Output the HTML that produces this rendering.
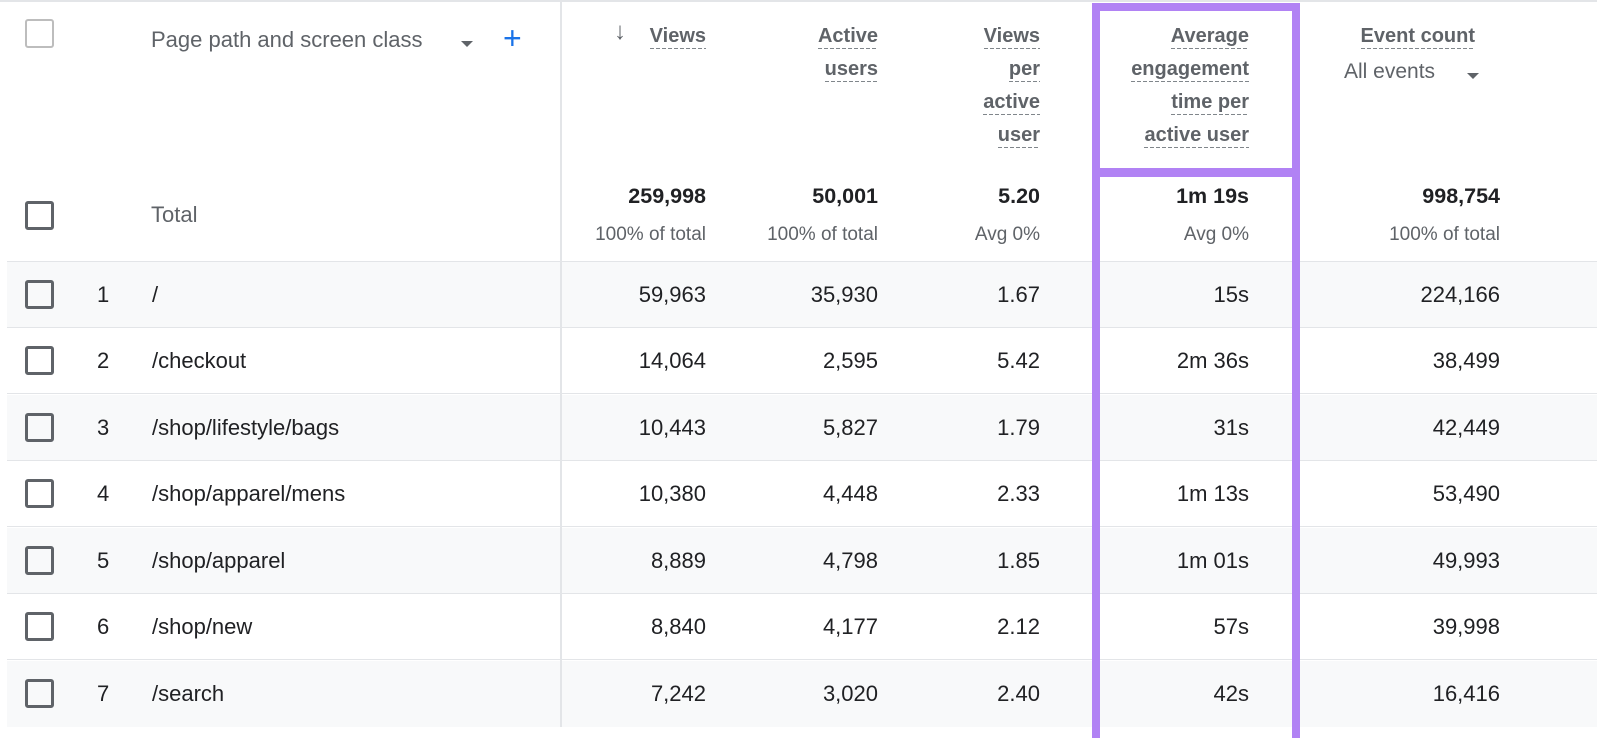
<!DOCTYPE html>
<html><head><meta charset="utf-8"><style>
*{margin:0;padding:0;box-sizing:border-box}
body{width:1600px;height:727px;background:#fff;position:relative;overflow:hidden;font-family:"Liberation Sans",Arial,sans-serif;color:#202124}
.a{position:absolute;white-space:nowrap}
.h{position:absolute;font-size:20px;font-weight:bold;color:#5f6368;text-align:right;line-height:33px}
.h span{display:inline-block;line-height:24px;padding-bottom:1px;background:repeating-linear-gradient(90deg,#80868b 0 4px,transparent 4px 6px) left bottom/100% 1.5px no-repeat}
.cb{position:absolute;left:25px;width:29px;height:29px;border:3px solid #5f6368;border-radius:3px}
.row{position:absolute;left:7px;width:1590px;height:66px;border-bottom:1.5px solid #e3e5e8}
.cell{position:absolute;font-size:22px;line-height:66px;top:0}
.t{position:absolute;font-size:21.5px;font-weight:bold;text-align:right;top:184px}
.s{position:absolute;font-size:19px;color:#5f6368;text-align:right;top:224px}
</style></head><body>
<div class="a" style="left:0;top:0;width:1600px;height:1.5px;background:#e3e5e8"></div>
<div class="cb" style="top:19px;border-color:#bdbdbd;border-width:2.5px"></div>
<div class="a" style="left:151px;top:27px;font-size:22px;color:#5f6368">Page path and screen class</div>
<div class="a" style="left:461px;top:41px;width:0;height:0;border-left:6px solid transparent;border-right:6px solid transparent;border-top:6px solid #5f6368"></div>
<div class="a" style="left:503px;top:20px;font-size:32px;color:#1a73e8">+</div>

<div class="h" style="left:560px;width:146px;top:20px">
<span style="position:absolute;right:80px;background:none;font-size:24px">↓</span><span>Views</span></div>
<div class="h" style="left:720px;width:158px;top:20px"><span>Active</span><br><span>users</span></div>
<div class="h" style="left:900px;width:140px;top:20px"><span>Views</span><br><span>per</span><br><span>active</span><br><span>user</span></div>
<div class="h" style="left:1100px;width:149px;top:20px"><span>Average</span><br><span>engagement</span><br><span>time per</span><br><span>active user</span></div>
<div class="h" style="left:1300px;width:175px;top:20px"><span>Event count</span></div>
<div class="a" style="left:1344px;top:60px;font-size:21px;color:#5f6368">All events</div>
<div class="a" style="left:1467px;top:73px;width:0;height:0;border-left:6px solid transparent;border-right:6px solid transparent;border-top:6px solid #5f6368"></div>

<div class="cb" style="top:201px"></div>
<div class="a" style="left:151px;top:202px;font-size:22px;color:#5f6368">Total</div>
<div class="t" style="left:540px;width:166px">259,998</div>
<div class="t" style="left:720px;width:158px">50,001</div>
<div class="t" style="left:900px;width:140px">5.20</div>
<div class="t" style="left:1100px;width:149px">1m 19s</div>
<div class="t" style="left:1300px;width:200px">998,754</div>
<div class="s" style="left:540px;width:166px">100% of total</div>
<div class="s" style="left:720px;width:158px">100% of total</div>
<div class="s" style="left:900px;width:140px">Avg 0%</div>
<div class="s" style="left:1100px;width:149px">Avg 0%</div>
<div class="s" style="left:1300px;width:200px">100% of total</div>
<div class="a" style="left:7px;top:261px;width:1590px;height:1.5px;background:#e3e5e8"></div>

<div class="row" style="top:262px;background:#f8f9fa"><div class="cb" style="left:18px;top:18px"></div><div class="cell" style="left:90px">1</div><div class="cell" style="left:145px">/</div><div class="cell" style="right:891px">59,963</div><div class="cell" style="right:719px">35,930</div><div class="cell" style="right:557px">1.67</div><div class="cell" style="right:348px">15s</div><div class="cell" style="right:97px">224,166</div></div>
<div class="row" style="top:328px"><div class="cb" style="left:18px;top:18px"></div><div class="cell" style="left:90px">2</div><div class="cell" style="left:145px">/checkout</div><div class="cell" style="right:891px">14,064</div><div class="cell" style="right:719px">2,595</div><div class="cell" style="right:557px">5.42</div><div class="cell" style="right:348px">2m 36s</div><div class="cell" style="right:97px">38,499</div></div>
<div class="row" style="top:395px;background:#f8f9fa"><div class="cb" style="left:18px;top:18px"></div><div class="cell" style="left:90px">3</div><div class="cell" style="left:145px">/shop/lifestyle/bags</div><div class="cell" style="right:891px">10,443</div><div class="cell" style="right:719px">5,827</div><div class="cell" style="right:557px">1.79</div><div class="cell" style="right:348px">31s</div><div class="cell" style="right:97px">42,449</div></div>
<div class="row" style="top:461px"><div class="cb" style="left:18px;top:18px"></div><div class="cell" style="left:90px">4</div><div class="cell" style="left:145px">/shop/apparel/mens</div><div class="cell" style="right:891px">10,380</div><div class="cell" style="right:719px">4,448</div><div class="cell" style="right:557px">2.33</div><div class="cell" style="right:348px">1m 13s</div><div class="cell" style="right:97px">53,490</div></div>
<div class="row" style="top:528px;background:#f8f9fa"><div class="cb" style="left:18px;top:18px"></div><div class="cell" style="left:90px">5</div><div class="cell" style="left:145px">/shop/apparel</div><div class="cell" style="right:891px">8,889</div><div class="cell" style="right:719px">4,798</div><div class="cell" style="right:557px">1.85</div><div class="cell" style="right:348px">1m 01s</div><div class="cell" style="right:97px">49,993</div></div>
<div class="row" style="top:594px"><div class="cb" style="left:18px;top:18px"></div><div class="cell" style="left:90px">6</div><div class="cell" style="left:145px">/shop/new</div><div class="cell" style="right:891px">8,840</div><div class="cell" style="right:719px">4,177</div><div class="cell" style="right:557px">2.12</div><div class="cell" style="right:348px">57s</div><div class="cell" style="right:97px">39,998</div></div>
<div class="row" style="top:661px;background:#f8f9fa;border:none"><div class="cb" style="left:18px;top:18px"></div><div class="cell" style="left:90px">7</div><div class="cell" style="left:145px">/search</div><div class="cell" style="right:891px">7,242</div><div class="cell" style="right:719px">3,020</div><div class="cell" style="right:557px">2.40</div><div class="cell" style="right:348px">42s</div><div class="cell" style="right:97px">16,416</div></div>

<div class="a" style="left:560px;top:0;width:1.5px;height:727px;background:#e3e5e8"></div>
<div class="a" style="left:1597px;top:0;width:3px;height:727px;background:#fff"></div>

<div class="a" style="left:1092px;top:3px;width:208px;height:174px;border:8px solid #b182f4"></div>
<div class="a" style="left:1092px;top:168px;width:208px;height:570px;border:8px solid #b182f4;border-bottom:none"></div>
</body></html>
